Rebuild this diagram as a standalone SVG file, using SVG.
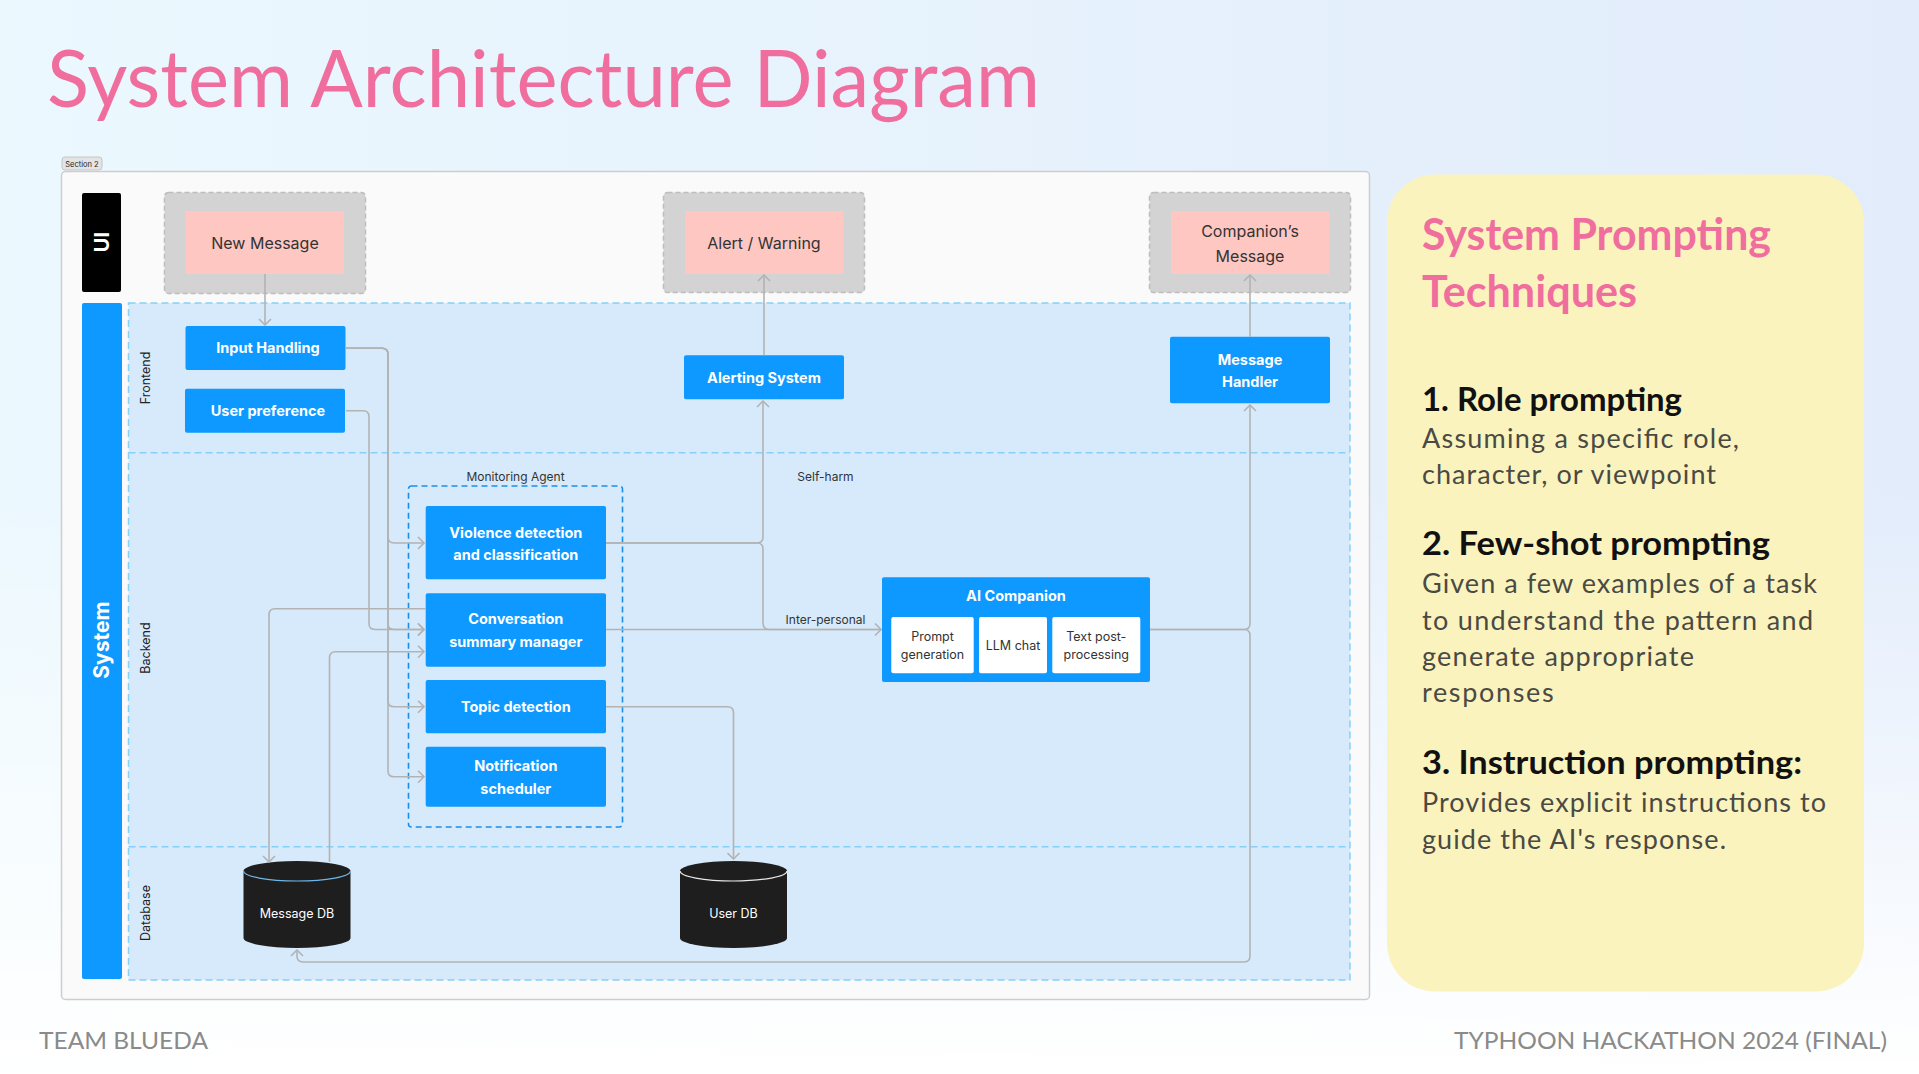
<svg xmlns="http://www.w3.org/2000/svg" width="1919" height="1074" viewBox="0 0 1919 1074">
<defs>
<linearGradient id="bg" x1="0" y1="0" x2="1" y2="0"><stop offset="0" stop-color="#EBF8FE"/><stop offset="1" stop-color="#E2ECFB"/></linearGradient>
<linearGradient id="fade" x1="0" y1="0" x2="0" y2="1"><stop offset="0.45" stop-color="#FFFFFF" stop-opacity="0"/><stop offset="1" stop-color="#FFFFFF" stop-opacity="1"/></linearGradient>
<marker id="arr" viewBox="0 0 8 14" refX="7" refY="7" markerWidth="8" markerHeight="14" markerUnits="userSpaceOnUse" orient="auto"><path d="M1,1 L7,7 L1,13" fill="none" stroke="#B3B3B3" stroke-width="1.6"/></marker>
</defs>
<style>
.title{font-family:Lato,"Liberation Sans",sans-serif;fill:#F06E9E}
.foot{font-family:Lato,"Liberation Sans",sans-serif;font-size:24px;fill:#8A8A8A}
.ph{font-family:Lato,"Liberation Sans",sans-serif;font-weight:700;font-size:33px;fill:#111}
.pb{font-family:Lato,"Liberation Sans",sans-serif;font-size:27px;fill:#4A4A44}
.node rect.b{fill:#0D99FF}
.nt{font-family:Inter,"Liberation Sans",sans-serif;font-weight:700;font-size:14.5px;fill:#FFFFFF;text-anchor:middle}
.ot rect.o{fill:#D3D3D3;stroke:#BDBDBD;stroke-width:1.5;stroke-dasharray:5 3}
.ot rect.p{fill:#FFC7C2}
.pt{font-family:Inter,"Liberation Sans",sans-serif;font-size:16px;fill:#333;text-anchor:middle}
.st{font-family:Inter,"Liberation Sans",sans-serif;font-size:12.5px;fill:#333;text-anchor:middle}
.lbl{font-family:Inter,"Liberation Sans",sans-serif;font-size:12px;fill:#333;text-anchor:middle}
.lane{font-family:Inter,"Liberation Sans",sans-serif;font-size:12.5px;fill:#222;text-anchor:middle}
.conn path{fill:none;stroke:#B3B3B3;stroke-width:1.6}
.db path.c{fill:#1E1E1E}
.dbt{font-family:Inter,"Liberation Sans",sans-serif;font-size:12.5px;fill:#FFFFFF;text-anchor:middle}
</style>
<rect width="1919" height="1074" fill="url(#bg)"/>
<rect width="1919" height="1074" fill="url(#fade)"/>

<text class="title" x="47" y="107" font-size="79" font-weight="400" textLength="993" lengthAdjust="spacingAndGlyphs">System Architecture Diagram</text>

<g id="section-label">
<rect x="62" y="157" width="40" height="13" rx="3" fill="#E4E4E4" stroke="#BBBBBB" stroke-width="0.8"/>
<text x="82" y="166.5" font-family="Inter,'Liberation Sans',sans-serif" font-size="7.5" fill="#222" text-anchor="middle">Section 2</text>
</g>

<g id="panel">
<rect x="61.5" y="171.5" width="1308" height="828" rx="4" fill="#FAFAFA" stroke="#CDCDCD" stroke-width="1.5"/>
</g>

<g id="lanes">
<rect x="128.5" y="303" width="1221.5" height="677" fill="#D7EAFB" stroke="#86CFF8" stroke-width="1.5" stroke-dasharray="7 4"/>
<line x1="128.5" y1="452.7" x2="1350" y2="452.7" stroke="#86CFF8" stroke-width="1.5" stroke-dasharray="7 4"/>
<line x1="128.5" y1="846.7" x2="1350" y2="846.7" stroke="#86CFF8" stroke-width="1.5" stroke-dasharray="7 4"/>
<text class="lane" transform="translate(150,378) rotate(-90)">Frontend</text>
<text class="lane" transform="translate(150,648) rotate(-90)">Backend</text>
<text class="lane" transform="translate(150,913) rotate(-90)">Database</text>
</g>

<g id="ui-bar">
<rect x="82" y="193" width="39" height="99" rx="2" fill="#000"/>
<text transform="translate(109,242) rotate(-90)" font-family="Inter,'Liberation Sans',sans-serif" font-weight="700" font-size="20" fill="#FFF" text-anchor="middle">UI</text>
</g>
<g id="system-bar">
<rect x="82" y="303" width="40" height="676" rx="2" fill="#0D99FF"/>
<text transform="translate(109,640) rotate(-90)" font-family="Inter,'Liberation Sans',sans-serif" font-weight="700" font-size="21" fill="#FFF" text-anchor="middle">System</text>
</g>

<g id="monitoring-agent">
<rect x="408.5" y="486" width="214" height="341" rx="3" fill="none" stroke="#1A8FEA" stroke-width="1.6" stroke-dasharray="6 4"/>
<text class="lbl" x="515.5" y="481">Monitoring Agent</text>
</g>

<g id="new-message" class="ot">
<rect class="o" x="164.5" y="192.5" width="201" height="101" rx="4"/>
<rect class="p" x="185.5" y="211" width="158.5" height="63"/>
<text class="pt" x="265" y="249">New Message</text>
</g>
<g id="alert-warning" class="ot">
<rect class="o" x="663.5" y="192.5" width="201" height="100" rx="4"/>
<rect class="p" x="685" y="211" width="158.5" height="63"/>
<text class="pt" x="764" y="249">Alert / Warning</text>
</g>
<g id="companions-message" class="ot">
<rect class="o" x="1149.5" y="192.5" width="201" height="100" rx="4"/>
<rect class="p" x="1171" y="211" width="158.5" height="63"/>
<text class="pt" x="1250" y="237">Companion’s</text>
<text class="pt" x="1250" y="262">Message</text>
</g>

<g id="input-handling" class="node">
<rect class="b" x="185.5" y="326" width="160" height="44" rx="2"/>
<text class="nt" x="268" y="353.3">Input Handling</text>
</g>
<g id="user-preference" class="node">
<rect class="b" x="185" y="388.7" width="160" height="44" rx="2"/>
<text class="nt" x="268" y="416">User preference</text>
</g>
<g id="alerting-system" class="node">
<rect class="b" x="684" y="355.3" width="160" height="44" rx="2"/>
<text class="nt" x="764" y="383">Alerting System</text>
</g>
<g id="message-handler" class="node">
<rect class="b" x="1170" y="336.7" width="160" height="66.6" rx="2"/>
<text class="nt" x="1250" y="364.6">Message</text>
<text class="nt" x="1250" y="387">Handler</text>
</g>

<g id="violence-detection" class="node">
<rect class="b" x="425.7" y="506" width="180.3" height="73.3" rx="2"/>
<text class="nt" x="515.8" y="537.5">Violence detection</text>
<text class="nt" x="515.8" y="560">and classification</text>
</g>
<g id="conversation-summary" class="node">
<rect class="b" x="425.7" y="593.3" width="180.3" height="73.4" rx="2"/>
<text class="nt" x="515.8" y="624">Conversation</text>
<text class="nt" x="515.8" y="647">summary manager</text>
</g>
<g id="topic-detection" class="node">
<rect class="b" x="425.7" y="680" width="180.3" height="53.3" rx="2"/>
<text class="nt" x="515.8" y="712">Topic detection</text>
</g>
<g id="notification-scheduler" class="node">
<rect class="b" x="425.7" y="746.7" width="180.3" height="60" rx="2"/>
<text class="nt" x="515.8" y="771.3">Notification</text>
<text class="nt" x="515.8" y="794">scheduler</text>
</g>

<g id="ai-companion" class="node">
<rect class="b" x="882" y="577.3" width="268" height="104.7" rx="2"/>
<text class="nt" x="1016" y="601.3">AI Companion</text>
<rect x="891.3" y="617" width="82.4" height="56.3" rx="2" fill="#FFF"/>
<text class="st" x="932.5" y="640.5">Prompt</text>
<text class="st" x="932.5" y="658.5">generation</text>
<rect x="979" y="617" width="68" height="56.3" rx="2" fill="#FFF"/>
<text class="st" x="1013" y="650">LLM chat</text>
<rect x="1052.3" y="617" width="88" height="56.3" rx="2" fill="#FFF"/>
<text class="st" x="1096.3" y="640.5">Text post-</text>
<text class="st" x="1096.3" y="658.5">processing</text>
</g>

<g id="message-db" class="db">
<path class="c" d="M243.5,871 A53.5,10 0 0,1 350.5,871 V938 A53.5,10 0 0,1 243.5,938 Z"/>
<path d="M243.5,871 A53.5,10 0 0,0 350.5,871" fill="none" stroke="#6FB6E8" stroke-width="1.2"/>
<text class="dbt" x="297" y="917.5">Message DB</text>
</g>
<g id="user-db" class="db">
<path class="c" d="M680,871 A53.5,10 0 0,1 787,871 V938 A53.5,10 0 0,1 680,938 Z"/>
<path d="M680,871 A53.5,10 0 0,0 787,871" fill="none" stroke="#E8E8E8" stroke-width="1.2"/>
<text class="dbt" x="733.5" y="917.5">User DB</text>
</g>

<g id="connectors" class="conn">
<path d="M265,274 V325" marker-end="url(#arr)"/>
<path d="M764,355.3 V275" marker-end="url(#arr)"/>
<path d="M1250,336.7 V275" marker-end="url(#arr)"/>
<path d="M606,543 H757 Q763,543 763,537 V401" marker-end="url(#arr)"/>
<path d="M606,543 H757 Q763,543 763,549 V623 Q763,629.5 769,629.5 H881" marker-end="url(#arr)"/>
<path d="M606,629.5 H881"/>
<path d="M1150,629.5 H1244 Q1250,629.5 1250,623.5 V405" marker-end="url(#arr)"/>
<path d="M1150,629.5 H1244 Q1250,629.5 1250,635.5 V956 Q1250,962 1244,962 H303 Q297,962 297,956 V950" marker-end="url(#arr)"/>
<path d="M346,348.3 H382 Q388,348.3 388,354.3 V537 Q388,543 394,543 H424" marker-end="url(#arr)"/>
<path d="M346,348.3 H382 Q388,348.3 388,354.3 V623.5 Q388,629.5 394,629.5 H424" marker-end="url(#arr)"/>
<path d="M346,348.3 H382 Q388,348.3 388,354.3 V700.7 Q388,706.7 394,706.7 H424" marker-end="url(#arr)"/>
<path d="M346,348.3 H382 Q388,348.3 388,354.3 V770.7 Q388,776.7 394,776.7 H424" marker-end="url(#arr)"/>
<path d="M346,410.7 H363 Q369,410.7 369,416.7 V623.5 Q369,629.5 375,629.5 H424" marker-end="url(#arr)"/>
<path d="M425.7,608.7 H275 Q269,608.7 269,614.7 V862" marker-end="url(#arr)"/>
<path d="M329.5,862 V657.7 Q329.5,651.7 335.5,651.7 H424" marker-end="url(#arr)"/>
<path d="M606,706.7 H727.5 Q733.5,706.7 733.5,712.7 V859" marker-end="url(#arr)"/>
<text class="lbl" x="825.5" y="481" stroke="none">Self-harm</text>
<text class="lbl" x="825.5" y="624" stroke="none">Inter-personal</text>
</g>

<g id="prompting-panel">
<rect x="1387" y="174.5" width="477" height="817" rx="48" fill="#FBF3BE"/>
<text class="title" x="1422" y="250" font-size="43" font-weight="700" textLength="349" lengthAdjust="spacingAndGlyphs">System Prompting</text>
<text class="title" x="1422" y="307" font-size="43" font-weight="700" textLength="215" lengthAdjust="spacingAndGlyphs">Techniques</text>
<text class="ph" x="1422" y="411" textLength="260" lengthAdjust="spacingAndGlyphs">1. Role prompting</text>
<text class="pb" x="1422" y="448" textLength="317" lengthAdjust="spacing">Assuming a specific role,</text>
<text class="pb" x="1422" y="484" textLength="294" lengthAdjust="spacing">character, or viewpoint</text>
<text class="ph" x="1422" y="555" textLength="348" lengthAdjust="spacingAndGlyphs">2. Few-shot prompting</text>
<text class="pb" x="1422" y="593" textLength="395" lengthAdjust="spacing">Given a few examples of a task</text>
<text class="pb" x="1422" y="629.5" textLength="391" lengthAdjust="spacing">to understand the pattern and</text>
<text class="pb" x="1422" y="666" textLength="272" lengthAdjust="spacing">generate appropriate</text>
<text class="pb" x="1422" y="702" textLength="131.6" lengthAdjust="spacing">responses</text>
<text class="ph" x="1422" y="773.5" textLength="380" lengthAdjust="spacingAndGlyphs">3. Instruction prompting:</text>
<text class="pb" x="1422" y="812" textLength="404" lengthAdjust="spacing">Provides explicit instructions to</text>
<text class="pb" x="1422" y="848.5" textLength="304" lengthAdjust="spacing">guide the AI's response.</text>
</g>

<g id="footer">
<text class="foot" x="39" y="1049" textLength="169" lengthAdjust="spacingAndGlyphs">TEAM BLUEDA</text>
<text class="foot" x="1454" y="1049" textLength="433" lengthAdjust="spacingAndGlyphs">TYPHOON HACKATHON 2024 (FINAL)</text>
</g>
</svg>
